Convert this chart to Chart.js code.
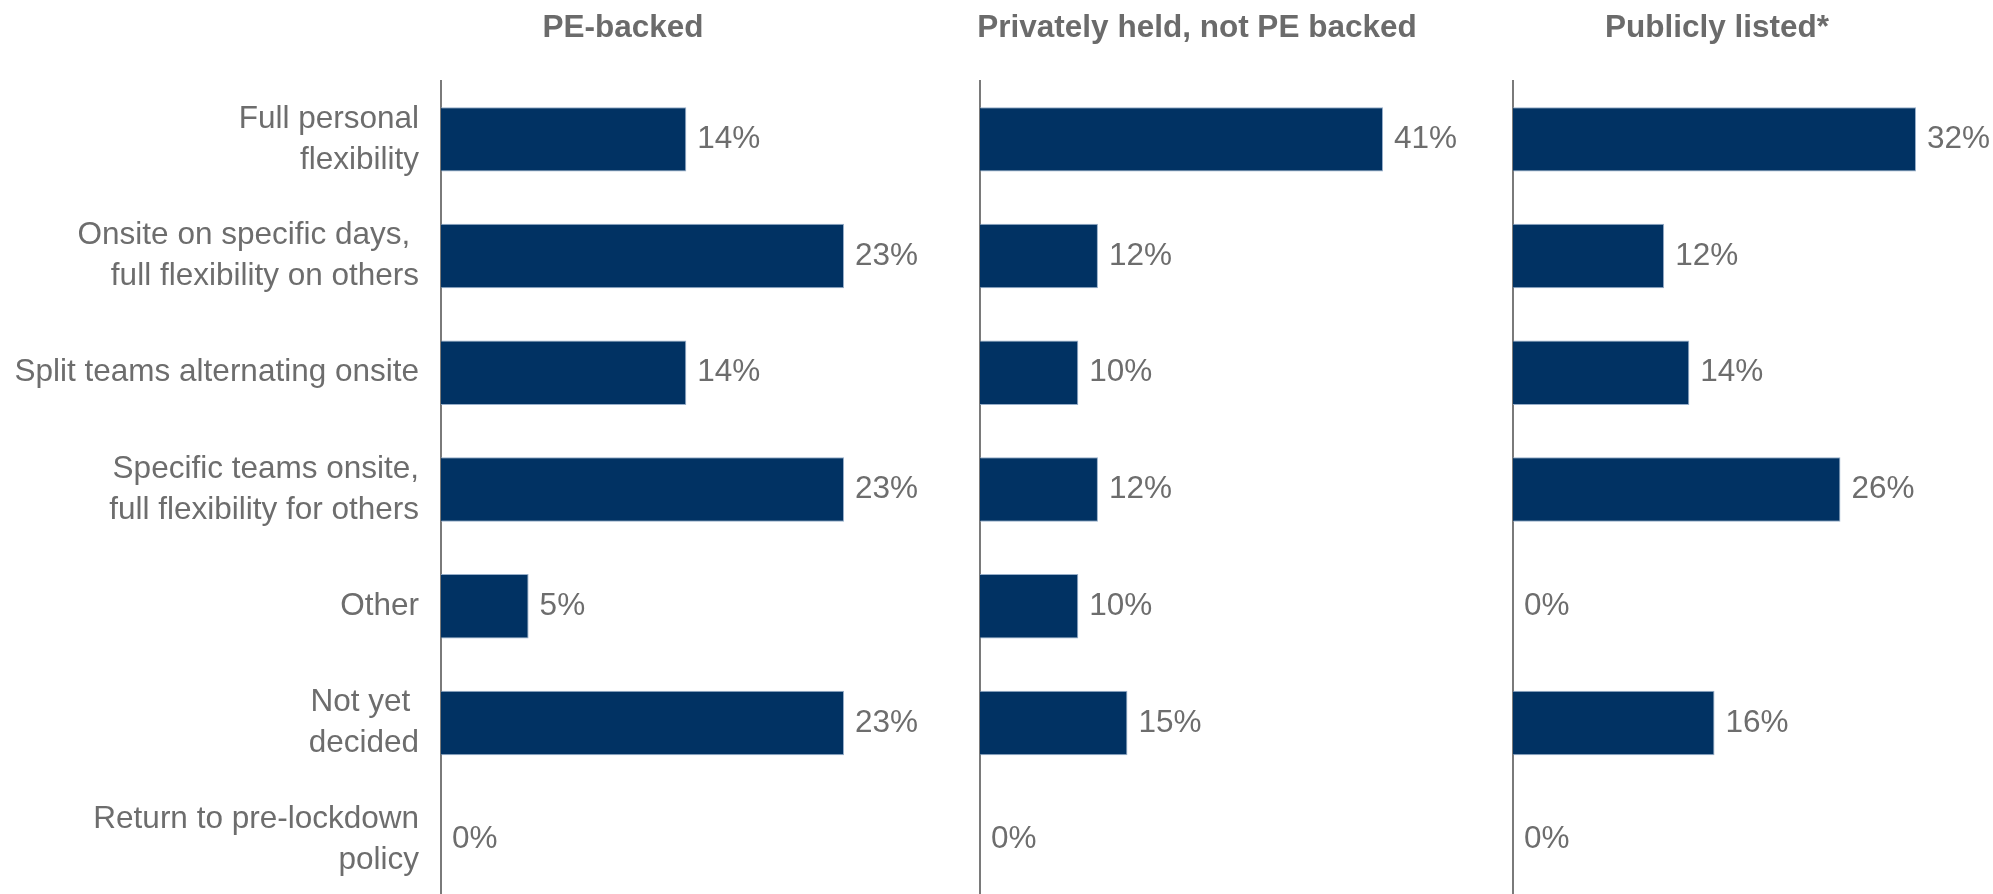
<!DOCTYPE html>
<html>
<head>
<meta charset="utf-8">
<script src="https://cdn.jsdelivr.net/npm/chart.js@4"></script>
<style>
  html, body { margin: 0; padding: 0; background: #ffffff; overflow: hidden; }
  body { width: 1993px; height: 894px; position: relative; }
  canvas { position: absolute; top: 0; }
  .panel-title {
    position: absolute;
    top: 8px;
    transform: translateX(-50%);
    white-space: nowrap;
    font: bold 31.5px "Liberation Sans", Arial, sans-serif;
    line-height: 36px;
    color: #6b6b6b;
  }
</style>
</head>
<body>
<canvas id="c0" width="960" height="898" style="left:0px"></canvas>
<canvas id="c1" width="535" height="898" style="left:960px"></canvas>
<canvas id="c2" width="498" height="898" style="left:1495px"></canvas>

<script>
// Response categories (top to bottom)
const categories = [
  ['Full personal', 'flexibility'],
  ['Onsite on specific days, ', 'full flexibility on others'],
  'Split teams alternating onsite',
  ['Specific teams onsite,', 'full flexibility for others'],
  'Other',
  ['Not yet ', 'decided'],
  ['Return to pre-lockdown', 'policy']
];

// Share of respondents (%) by ownership type
const peBacked       = [14, 23, 14, 23, 5, 23, 0];
const privatelyHeld  = [41, 12, 10, 12, 10, 15, 0];
const publiclyListed = [32, 12, 14, 26, 0, 16, 0];

const panelTitles = ['PE-backed', 'Privately held, not PE backed', 'Publicly listed*'];

const FONT_FAMILY = '"Liberation Sans", Arial, sans-serif';
const TEXT_GREY = '#6d6d6d';
const BAR_NAVY = '#013263';

// Panel placement: canvas id, series, title centre (page x), left padding, y-axis width, right padding
const panels = [
  { id: 'c0', values: peBacked,       titleX: 623,  padLeft: 0,  axisWidth: 441, padRight: 116, showLabels: true },
  { id: 'c1', values: privatelyHeld,  titleX: 1197, padLeft: 20, axisWidth: 0,   padRight: 112, showLabels: false },
  { id: 'c2', values: publiclyListed, titleX: 1717, padLeft: 18, axisWidth: 0,   padRight: 77,  showLabels: false }
];

// Writes the percentage just past the end of each bar
const valueLabels = {
  id: 'valueLabels',
  afterDatasetsDraw(chart) {
    const { ctx } = chart;
    const meta = chart.getDatasetMeta(0);
    const values = chart.data.datasets[0].data;
    ctx.save();
    ctx.font = '31.5px ' + FONT_FAMILY;
    ctx.fillStyle = TEXT_GREY;
    ctx.textAlign = 'left';
    ctx.textBaseline = 'middle';
    meta.data.forEach((bar, i) => {
      ctx.fillText(values[i] + '%', bar.x + 11, bar.y);
    });
    ctx.restore();
  }
};

panels.forEach((p, idx) => {
  const title = document.createElement('div');
  title.className = 'panel-title';
  title.style.left = p.titleX + 'px';
  title.textContent = panelTitles[idx];
  document.body.appendChild(title);

  new Chart(document.getElementById(p.id), {
    type: 'bar',
    data: {
      labels: categories,
      datasets: [{
        data: p.values,
        backgroundColor: BAR_NAVY,
        borderColor: 'rgba(140,165,195,0.9)',
        borderWidth: (ctx) => (p.values[ctx.dataIndex] === 0 ? 0 : 1),
        barPercentage: 0.552,
        categoryPercentage: 1.0
      }]
    },
    options: {
      indexAxis: 'y',
      responsive: false,
      animation: false,
      layout: { padding: { top: 81, bottom: 0, left: p.padLeft, right: p.padRight } },
      plugins: {
        legend: { display: false },
        tooltip: { enabled: false },
        title: { display: false }
      },
      scales: {
        x: {
          display: false,
          min: 0,
          max: Math.max(...p.values)
        },
        y: {
          display: true,
          grid: { display: false, drawTicks: false },
          border: { display: true, color: '#7a7a7a', width: 2 },
          ticks: {
            display: p.showLabels,
            color: TEXT_GREY,
            padding: 22,
            font: { family: FONT_FAMILY, size: 31.5, lineHeight: 1.3 }
          },
          afterFit(scale) {
            scale.width = p.axisWidth;
            scale.paddingTop = 0;
            scale.paddingBottom = 0;
          }
        }
      }
    },
    plugins: [valueLabels]
  });
});
</script>
</body>
</html>
